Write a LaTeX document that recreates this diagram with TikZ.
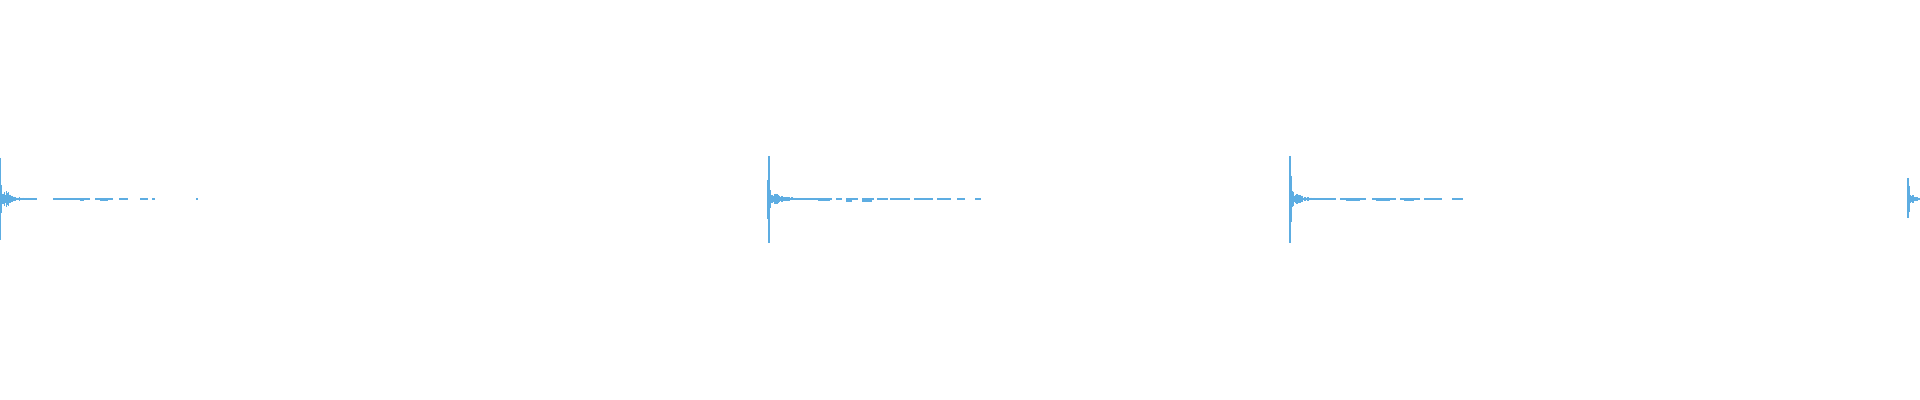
\documentclass[tikz,border=0pt]{standalone}
\begin{document}
\begin{tikzpicture}[x=0.5pt,y=-0.5pt]
\definecolor{wv}{HTML}{5DADE2}
\tikzset{wave/.style={draw=wv,line width=0.6pt},seg/.style={draw=wv,line width=0.8pt}}
\pgfmathsetseed{7}
\useasboundingbox (0,0) rectangle (1920,400);
% burst 1
\draw[wave] (0.6,158) -- (0.6,240);
\foreach \i in {1,...,36}{\pgfmathsetmacro\a{14*exp(-\i/8)*(0.3+0.9*rnd)+0.6}\draw[wave] (0.6+\i,199-\a) -- (0.6+\i,199+\a);}
\draw[seg] (18,199)--(36,199);
\foreach \s/\e in {53/90,95/113,119/128,140/148,152/155,196/198}{\draw[seg] (\s,199) -- (\e,199);}
\draw[seg] (80,200)--(84,200) (100,200)--(108,200);
% burst 2
\draw[wave] (769,156) -- (769,243);
\draw[wv,line width=1.5pt] (768,180) -- (768,219);
\foreach \i in {1,...,38}{\pgfmathsetmacro\a{8*exp(-\i/10)*(0.3+0.9*rnd)+0.6}\draw[wave] (769+\i,199-\a) -- (769+\i,199+\a);}
\foreach \s/\e in {808/832,836/842,846/858,862/874,877/888,890/910,914/933,937/951,957/965,975/981}{\draw[seg] (\s,199) -- (\e,199);}
\draw[seg] (818,200)--(830,200) (846,201)--(852,201) (862,201)--(872,201);
% burst 3
\draw[wave] (1290,156) -- (1290,243);
\draw[wv,line width=1.2pt] (1291,176) -- (1291,222);
\foreach \i in {1,...,36}{\pgfmathsetmacro\a{10*exp(-\i/8)*(0.3+0.9*rnd)+0.6}\draw[wave] (1290+\i,199-\a) -- (1290+\i,199+\a);}
\foreach \s/\e in {1326/1336,1340/1366,1372/1396,1400/1420,1424/1442,1452/1463}{\draw[seg] (\s,199) -- (\e,199);}
\draw[seg] (1346,200)--(1360,200) (1376,200)--(1390,200) (1404,200)--(1414,200);
% burst 4
\draw[wave] (1908,178) -- (1908,218);
\draw[wv,line width=1pt] (1909,186) -- (1909,212);
\foreach \i in {1,...,11}{\pgfmathsetmacro\a{6*exp(-\i/5)*(0.3+0.9*rnd)+0.6}\draw[wave] (1909+\i,199-\a) -- (1909+\i,199+\a);}
\end{tikzpicture}
\end{document}
